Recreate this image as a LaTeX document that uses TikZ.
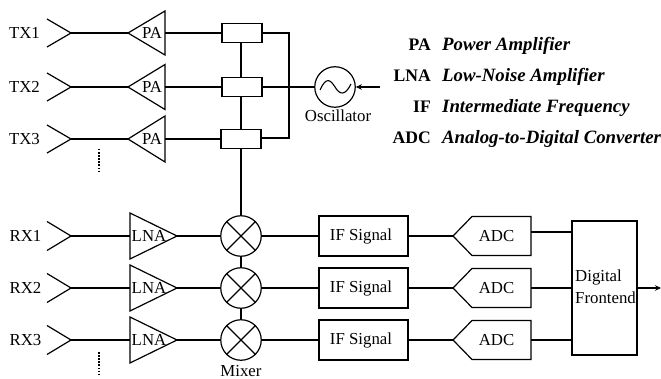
\documentclass[tikz,border=0pt]{standalone}
\usepackage{fontspec}
\setmainfont{Liberation Serif}
\usetikzlibrary{arrows.meta}
\tikzset{
  x=1pt,y=-1pt,
  wire/.style={line width=1.2pt,line join=miter},
  lbl/.style={inner sep=0pt,font=\fontsize{16.8}{18}\selectfont},
  blk/.style={draw,line width=1.2pt,rectangle,minimum width=#1,inner sep=0pt},
  txbox/.style={blk=40pt,minimum height=18.5pt},
  ifbox/.style={blk=89pt,minimum height=40pt},
  mixer/.style={draw,line width=1.2pt,circle,minimum size=40.5pt,inner sep=0pt},
  legk/.style={inner sep=0pt,anchor=base east,font=\fontsize{17.6}{20}\selectfont\bfseries},
  legv/.style={inner sep=0pt,anchor=base west,font=\fontsize{18.8}{20}\selectfont\bfseries\itshape},
  tip/.style={-{Stealth[length=6pt,width=5.5pt]}},
  dots/.style={line width=1.2pt,dash pattern=on 1.5pt off 1.6pt},
}
\begin{document}
\begin{tikzpicture}
\useasboundingbox (0,0) rectangle (661,379);
% TX chains
\foreach \n/\y/\bx/\h in {1/33/242/22,2/87/242/22.5,3/139/241/23}{
  \coordinate (tant\n) at (71,\y);
  \coordinate (tpat\n) at (128,\y);
  \coordinate (tpab\n) at (165,\y);
  \draw[wire] (47,\y-14) -- (tant\n) -- (47,\y+14);
  \draw[wire] (165,\y-\h) -- (tpat\n) -- (165,\y+\h) -- cycle;
  \node[lbl,anchor=east] (tlab\n) at (40,\y) {TX\n};
  \node[lbl] (tpa\n) at (152,\y) {PA};
  \node[txbox] (tbox\n) at (\bx,\y) {};
  \draw[wire] (tant\n) -- (tpat\n);
  \draw[wire] (tpab\n) -- (tbox\n);
}
% Oscillator
\node[mixer] (osc) at (335,87) {};
\draw[wire,line width=1.1pt] (320,90) .. controls (326,77) and (330,79) .. (335,87) .. controls (340,95) and (345,96) .. (351,84);
\node[lbl] (osclab) at (338,115.5) {Oscillator};
\coordinate (oscin) at (380,87);
\draw[wire,tip] (oscin) -- (osc);
\draw[wire] (tbox2) -- (osc);
\draw[wire] (tbox1) -| (289,138) -- (tbox3.east |- 0,138);
% RX chains
\foreach \n/\y/\ty/\ah in {1/236/236/232,2/288/288/288,3/340/340/340}{
  \coordinate (rant\n) at (71,\y);
  \coordinate (lnab\n) at (130,\y);
  \coordinate (lnat\n) at (177,\y);
  \draw[wire] (47,\y-14.5) -- (rant\n) -- (47,\y+14.5);
  \draw[wire] (130,\y-23) -- (lnat\n) -- (130,\y+23) -- cycle;
  \node[lbl,anchor=east] (rlab\n) at (41.5,\y) {RX\n};
  \node[lbl] (lna\n) at (149,\y) {LNA};
  \node[mixer] (mix\n) at (241,\y) {};
  \draw[wire] (mix\n.north west) -- (mix\n.south east) (mix\n.north east) -- (mix\n.south west);
  \node[ifbox] (if\n) at (363.5,\y) {};
  \node[lbl] (ift\n) at (361,\y) {IF Signal};
  \coordinate (adct\n) at (453,\y);
  \draw[wire] (adct\n) -- (472,\y-19.5) -- (531,\y-19.5) -- (531,\y+19.5) -- (472,\y+19.5) -- cycle;
  \node[lbl] (adc\n) at (496.5,\y) {ADC};
  \coordinate (adco\n) at (531,\ah);
  \draw[wire] (rant\n) -- (lnab\n);
  \draw[wire] (lnat\n) -- (mix\n);
  \draw[wire] (mix\n) -- (if\n);
  \draw[wire] (if\n) -- (adct\n);
}
\node[lbl] (mixlab) at (241,371) {Mixer};
% Verticals
\draw[wire] (tbox1.south -| mix1) -- (tbox2.north -| mix1);
\draw[wire] (tbox2.south -| mix1) -- (tbox3.north -| mix1);
\draw[wire] (tbox3.south -| mix1) -- (mix1);
\draw[wire] (mix1) -- (mix2);
\draw[wire] (mix2) -- (mix3);
% Digital frontend
\node[draw,line width=1.2pt,minimum width=65pt,minimum height=134pt,inner sep=0pt] (dig) at (604.5,288) {};
\node[lbl,anchor=west] (digt1) at (575,277) {Digital};
\node[lbl,anchor=west] (digt2) at (575,298) {Frontend};
\foreach \n/\y in {1/232,2/288,3/340}{ \draw[wire] (adco\n) -- (572,\y); }
\coordinate (out) at (661,288);
\draw[wire,tip] (dig.east |- out) -- (out);
% Dots
\coordinate (d1a) at (99,149); \coordinate (d1b) at (99,172);
\coordinate (d2a) at (99,352); \coordinate (d2b) at (99,375);
\draw[dots] (d1a) -- (d1b);
\draw[dots] (d2a) -- (d2b);
% Legend
\foreach \n/\y/\k/\v in {1/51/PA/Power Amplifier,2/82/LNA/Low-Noise Amplifier,3/113/IF/Intermediate Frequency,4/144/ADC/Analog-to-Digital Converter}{
  \node[legk] (lk\n) at (431,\y) {\k};
  \node[legv] (lv\n) at (442,\y) {\v};
}
\end{tikzpicture}
\end{document}
